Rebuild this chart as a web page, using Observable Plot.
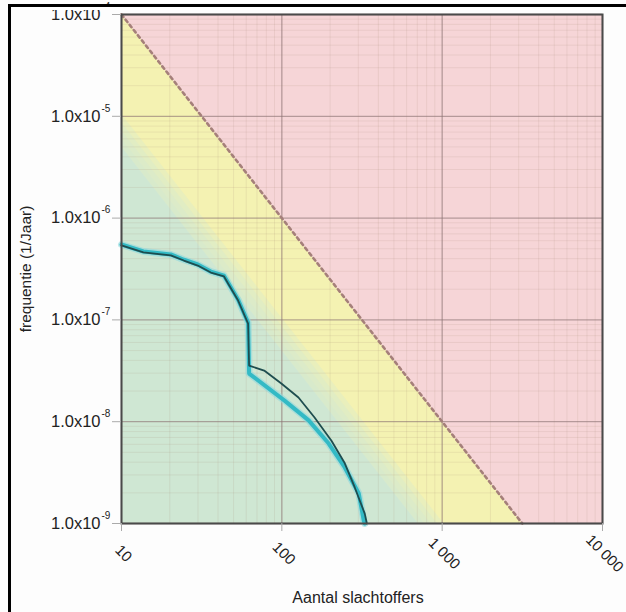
<!DOCTYPE html>
<html>
<head>
<meta charset="utf-8">
<script src="https://cdn.jsdelivr.net/npm/d3@7"></script>
<script src="https://cdn.jsdelivr.net/npm/@observablehq/plot@0.6"></script>
<style>
  html, body { margin: 0; padding: 0; background: #fdfdfd; }
  #wrap { position: relative; width: 626px; height: 612px; overflow: hidden; }
  #wrap svg { position: absolute; left: 0; top: 0; }
  .bl { position: absolute; left: 8px; top: 4px; width: 3px; height: 608px; background: #000; }
  .bt { position: absolute; left: 8px; top: 4px; width: 618px; height: 3px; background: #000; }
  .wt { position: absolute; left: 11px; top: 7px; width: 105px; height: 3px; background: #fdfdfd; }
</style>
</head>
<body>
<div id="wrap"></div>
<script>
// Axis ticks and labels
const xTicks = [10, 100, 1000, 10000];
const xTickLabels = ["10", "100", "1 000", "10 000"];
const yTicks = [1e-9, 1e-8, 1e-7, 1e-6, 1e-5, 1e-4];
const yTickBase = ["1.0x10", "1.0x10", "1.0x10", "1.0x10", "1.0x10", "1.0x10"];
const yTickExp = ["-9", "-8", "-7", "-6", "-5", "-4"];
const xMinor = [20, 30, 40, 50, 60, 70, 80, 90, 200, 300, 400, 500, 600, 700, 800, 900, 2000, 3000, 4000, 5000, 6000, 7000, 8000, 9000];
const yMinor = [2e-9, 3e-9, 4e-9, 5e-9, 6e-9, 7e-9, 8e-9, 9e-9, 2e-8, 3e-8, 4e-8, 5e-8, 6e-8, 7e-8, 8e-8, 9e-8,
                2e-7, 3e-7, 4e-7, 5e-7, 6e-7, 7e-7, 8e-7, 9e-7, 2e-6, 3e-6, 4e-6, 5e-6, 6e-6, 7e-6, 8e-6, 9e-6,
                2e-5, 3e-5, 4e-5, 5e-5, 6e-5, 7e-5, 8e-5, 9e-5];
const xLabel = "Aantal slachtoffers";
const yLabel = "frequentie (1/Jaar)";

// Guideline (oriëntatiewaarde), dashed line endpoints
const guideN = [10, 3162];
const guideF = [1e-4, 1e-9];

// Green zone edges (soft boundary): F at N=10 and N at F=1e-9
const greenEdgeF10 = [10 ** -5.3, 10 ** -5.22, 10 ** -5.14, 10 ** -5.06, 10 ** -4.98];
const greenEdgeN9 = [708, 776, 851, 933, 1023];

// FN curves
const darkN = [10, 13.7, 20.3, 24.5, 29.9, 36.1, 43.6, 46.2, 53.4, 61.6, 62.5, 77.6, 99.3, 127, 160, 204, 247, 285, 329, 339];
const darkF = [5.4e-7, 4.6e-7, 4.3e-7, 3.83e-7, 3.42e-7, 2.92e-7, 2.67e-7, 2.28e-7, 1.55e-7, 9.2e-8, 3.56e-8, 3.18e-8, 2.37e-8, 1.73e-8, 1.10e-8, 6.5e-9, 3.9e-9, 2.26e-9, 1.25e-9, 1e-9];
const cyanN = [10, 13.7, 20.3, 24.5, 29.9, 36.1, 43.6, 46.2, 53.4, 61.6, 62.5, 104, 147, 196, 247, 302, 324, 329];
const cyanF = [5.5e-7, 4.7e-7, 4.4e-7, 3.9e-7, 3.5e-7, 2.98e-7, 2.72e-7, 2.33e-7, 1.58e-7, 9.4e-8, 2.97e-8, 1.61e-8, 1.03e-8, 6.1e-9, 3.55e-9, 1.97e-9, 1.07e-9, 1e-9];

const pink = "#f6d5d7", yellow = "#f4f2b2", green = "#cfe7d3";

const guide = guideN.map((n, i) => ({n, f: guideF[i]}));
const dark = darkN.map((n, i) => ({n, f: darkF[i]}));
const cyan = cyanN.map((n, i) => ({n, f: cyanF[i]}));
const xt = xTicks.map((v, i) => ({v, label: xTickLabels[i]}));
const yt = yTicks.map((v, i) => ({v, base: yTickBase[i], exp: yTickExp[i]}));

const greenMarks = greenEdgeF10.map((f10, i) => {
  const pts = [{n: 10, f: f10}, {n: greenEdgeN9[i], f: 1e-9}];
  return Plot.areaY(pts, {x: "n", y1: () => 1e-9, y2: "f", fill: green, fillOpacity: i === 0 ? 1 : 0.3});
});

const chart = Plot.plot({
  width: 626, height: 612,
  marginLeft: 121, marginRight: 24, marginTop: 14, marginBottom: 89,
  x: {type: "log", domain: [10, 10000]},
  y: {type: "log", domain: [1e-9, 1e-4]},
  style: {fontFamily: "'Liberation Sans', Arial, sans-serif", background: "transparent", color: "#222"},
  marks: [
    Plot.frame({fill: pink, stroke: null}),
    Plot.areaY(guide, {x: "n", y1: () => 1e-9, y2: "f", fill: yellow}),
    ...greenMarks,
    Plot.ruleX(xMinor, {stroke: "#a08a70", strokeOpacity: 0.14}),
    Plot.ruleY(yMinor, {stroke: "#a08a70", strokeOpacity: 0.14}),
    Plot.ruleX(xTicks, {stroke: "#8a7272", strokeOpacity: 0.6, strokeWidth: 1.3}),
    Plot.ruleY(yTicks, {stroke: "#8a7272", strokeOpacity: 0.6, strokeWidth: 1.3}),
    Plot.line(guide, {x: "n", y: "f", stroke: "#a5807a", strokeWidth: 2.6, strokeDasharray: "3,3.6"}),
    Plot.line(cyan, {x: "n", y: "f", stroke: "#8fd9de", strokeWidth: 7, strokeOpacity: 0.6}),
    Plot.line(cyan, {x: "n", y: "f", stroke: "#33bac5", strokeWidth: 4}),
    Plot.line(dark, {x: "n", y: "f", stroke: "#1e4d4f", strokeWidth: 1.8}),
    Plot.frame({stroke: "#4a4a4a", strokeWidth: 2}),
    Plot.axisX({ticks: xTicks, tickSize: 8, tickFormat: () => "", label: null, stroke: "#aaa"}),
    Plot.axisY({ticks: yTicks, tickSize: 9, tickFormat: () => "", label: null, stroke: "#aaa"}),
    Plot.text(yt, {y: "v", frameAnchor: "left", lineAnchor: "middle", text: "base", textAnchor: "end", dx: -21, fontSize: 16.5, fill: "#222"}),
    Plot.text(yt, {y: "v", frameAnchor: "left", lineAnchor: "middle", text: "exp", textAnchor: "start", dx: -20, dy: -8, fontSize: 10, fill: "#222"}),
    Plot.text(xt, {x: "v", frameAnchor: "bottom", lineAnchor: "middle", text: "label", rotate: 45, textAnchor: "middle", dx: 2, dy: 30, fontSize: 15, fill: "#222"}),
    Plot.text([xLabel], {frameAnchor: "bottom", lineAnchor: "middle", textAnchor: "middle", text: d => d, dy: 74, dx: -4, fontSize: 16, fill: "#222"}),
    Plot.text([yLabel], {frameAnchor: "left", lineAnchor: "middle", textAnchor: "middle", text: d => d, rotate: -90, dx: -95, fontSize: 15.5, fill: "#222"})
  ]
});
const wrap = document.getElementById("wrap");
wrap.appendChild(chart);
for (const c of ["bl", "bt", "wt"]) { const d = document.createElement("div"); d.className = c; wrap.appendChild(d); }
</script>
</body>
</html>
